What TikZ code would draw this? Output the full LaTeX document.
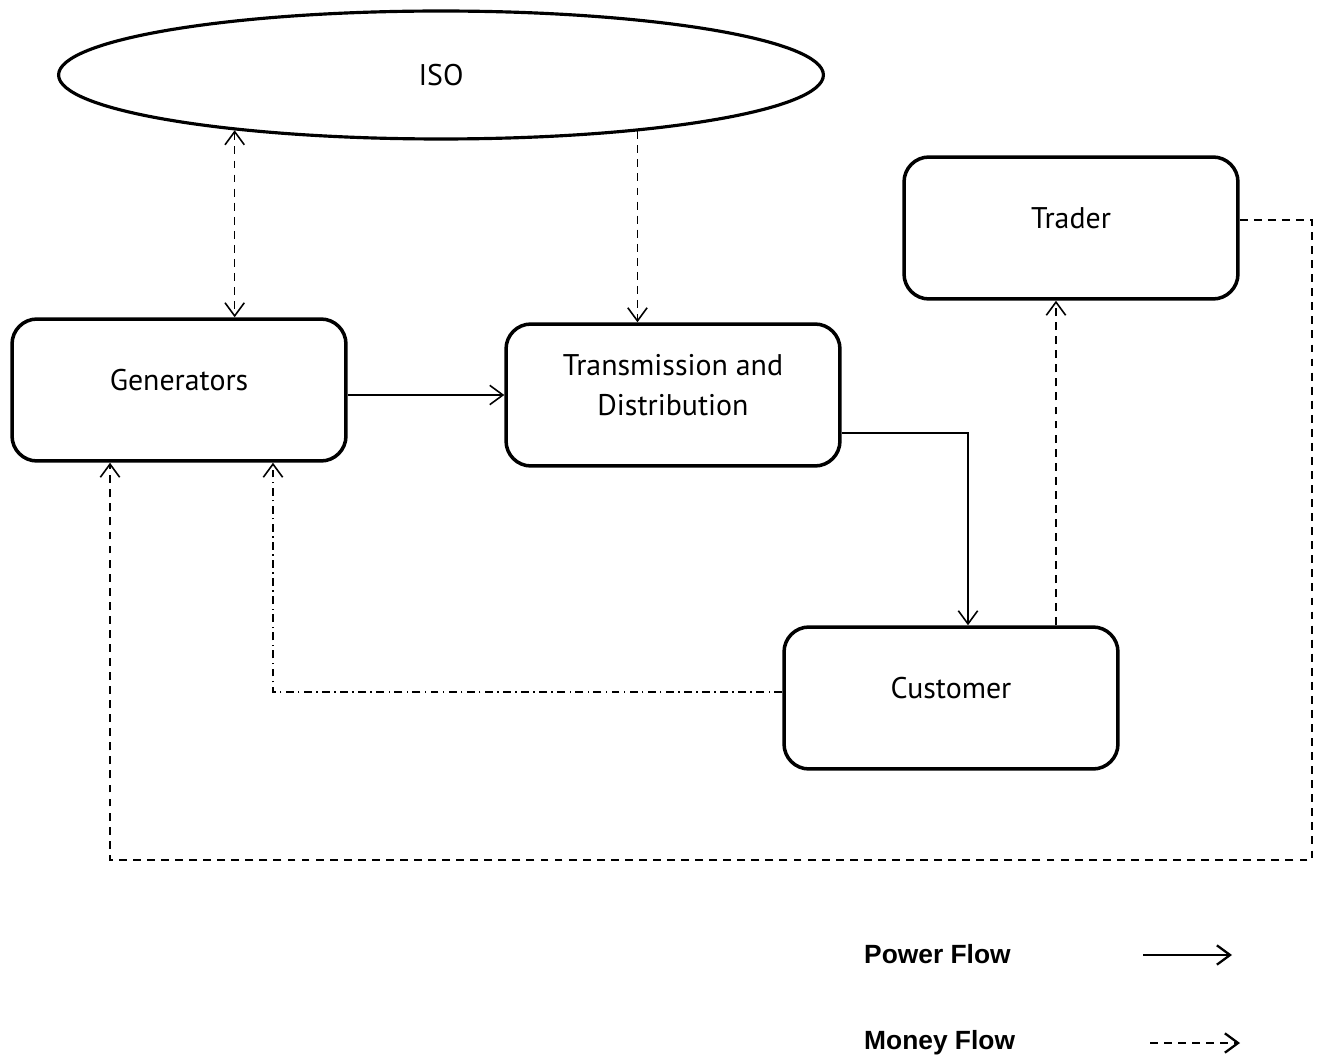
\documentclass[tikz,border=0pt]{standalone}
\usepackage{fontspec}
\setmainfont{PT Sans}
\newfontfamily\legendfont{Liberation Sans}
\usetikzlibrary{arrows.meta, shapes.geometric}

\begin{document}
\begin{tikzpicture}[
    x=0.02cm, y=-0.02cm,
    font=\fontsize{17}{23}\selectfont,
    entity/.style={
      draw,
      line width=2pt,
      rounded corners=0.5cm,
      align=center,
      minimum width=6.68cm,
      minimum height=2.84cm,
      text depth=0.4cm,
      inner sep=4pt
    },
    power/.style={-{Straight Barb[length=7.5pt,width=11pt]}, line width=0.9pt},
    money/.style={-{Straight Barb[length=7.5pt,width=11pt]}, line width=0.9pt,
      dash pattern=on 4.5pt off 3.5pt},
    moneydot/.style={-{Straight Barb[length=7.5pt,width=11pt]}, line width=0.9pt,
      dash pattern=on 4.5pt off 2.5pt on 0.8pt off 2.5pt},
    legend/.style={anchor=west, font=\legendfont\bfseries\fontsize{15}{18}\selectfont}
  ]
  \useasboundingbox (0,0) rectangle (1322,1057);

  % ===================== 参与方 =====================
  \node[draw, ellipse, line width=1.8pt, minimum width=15.3cm, minimum height=2.56cm] (iso) at (441,75) {ISO};
  \node[entity] (trader) at (1071,228) {Trader};
  \node[entity] (gen) at (179,390) {Generators};
  \node[entity] (tnd) at (673,395) {Transmission and\\Distribution};
  \node[entity] (cust) at (951,698) {Customer};

  % ===================== 电力流 =====================
  \draw[power] (gen.east |- tnd.west) -- (tnd.west);
  \draw[power] ([yshift=-0.76cm]tnd.east) -| ([xshift=0.34cm]cust.north);

  % ===================== 资金流 =====================
  \draw[money, {Straight Barb[length=7.5pt,width=11pt]}-{Straight Barb[length=7.5pt,width=11pt]}]
    (iso.195.6) -- (iso.195.6 |- gen.north);
  \draw[money] (iso.344.9) -- (iso.344.9 |- tnd.north);
  \draw[money] ([xshift=2.1cm]cust.north) -- ([xshift=2.1cm]cust.north |- trader.south);

  % ===================== 外圈回到发电 =====================
  \coordinate (outer) at (1312,860);
  \draw[money] ([yshift=0.16cm]trader.east) -| (outer) -| ([xshift=-1.38cm]gen.south);
  \draw[moneydot] ([yshift=0.12cm]cust.west) -| ([xshift=1.88cm]gen.south);

  % ===================== 图例 =====================
  \node[legend] (lpower) at (858,954) {Power Flow};
  \node[legend] (lmoney) at (858,1043) {Money Flow};
  \coordinate (lpa) at (1143,955);
  \coordinate (lma) at (1150,1043);
  \draw[power, line width=1.3pt] (lpa) -- ++(89,0);
  \draw[money, line width=1.3pt] (lma) -- ++(90,0);

  \end{tikzpicture}
\end{document}
